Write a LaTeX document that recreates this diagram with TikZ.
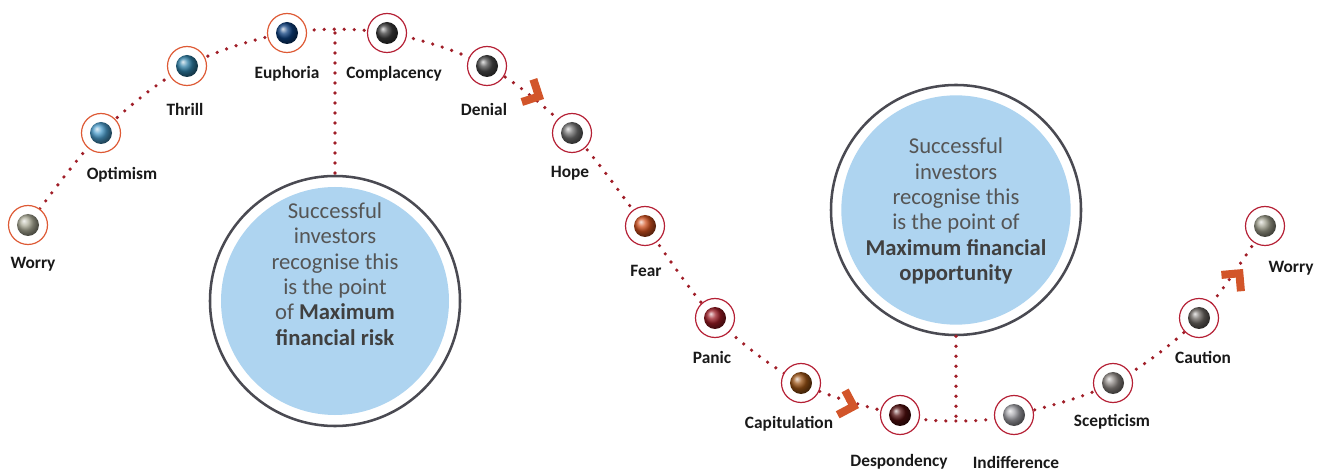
\documentclass[tikz,border=0pt]{standalone}
\usepackage{fontspec}
\usetikzlibrary{calc}
\setmainfont{Carlito}
\definecolor{ringO}{HTML}{DE5A35}
\definecolor{ringR}{HTML}{B52035}
\definecolor{dotred}{HTML}{A01E28}
\definecolor{chev}{HTML}{D2552A}
\definecolor{bigring}{HTML}{4A4A52}
\definecolor{bluefill}{HTML}{AED4F0}
\definecolor{ctext}{HTML}{555555}
\definecolor{cbold}{HTML}{404040}
% chevron: #1 name of tip coordinate, #2 backward angle (pixel frame)
\newcommand\chevronmark[2]{%
  \fill[chevshape] (#1) -- ($(#1)+({#2-45}:22)$) -- ($(#1)+({#2-45}:22)+({#2+45}:8)$)
    -- ($(#1)+(#2:11.3)$) -- ($(#1)+({#2+45}:22)+({#2-45}:8)$) -- ($(#1)+({#2+45}:22)$) -- cycle;
}
\begin{document}
\begin{tikzpicture}[x=0.75pt,y=-0.75pt,
  ringnode/.style={circle, line width=0.9pt, fill=white, minimum size=29.25pt, inner sep=0pt},
  ballnode/.style={circle, shading=ball, minimum size=16.5pt, inner sep=0pt},
  lbl/.style={font=\bfseries\fontsize{13}{15}\selectfont, text=black!90, inner sep=0pt},
  dots/.style={draw=dotred, line width=2.7pt, line cap=round, dash pattern=on 0pt off 7.5pt},
  bigcircle/.style={circle, draw=bigring, line width=1.9pt, fill=white, minimum size=187.5pt, inner sep=0pt},
  bigtext/.style={align=center, text=ctext, font=\fontsize{17}{19}\selectfont, inner sep=0pt},
  chevshape/.style={fill=chev}
]
\useasboundingbox (0,0) rectangle (1325,470);

% centres
\coordinate (c-w1) at (28,225);
\coordinate (c-opt) at (101,133);
\coordinate (c-thr) at (187,66);
\coordinate (c-eup) at (287,33);
\coordinate (c-com) at (387,33);
\coordinate (c-den) at (487,66);
\coordinate (c-hop) at (572,133);
\coordinate (c-fea) at (645,226);
\coordinate (c-pan) at (715,318);
\coordinate (c-cap) at (801,383);
\coordinate (c-des) at (900,415);
\coordinate (c-bot) at (956,421);
\coordinate (c-ind) at (1014,415);
\coordinate (c-sce) at (1113,383);
\coordinate (c-cau) at (1199,318);
\coordinate (c-w2) at (1265,226);
\coordinate (c-top) at (335,33);
\coordinate (k1) at (544,99);
\coordinate (k2) at (859,408);
\coordinate (k3) at (1243,269);

% big circles
\node[bigcircle] (bigL) at (335,301) {};
\fill[bluefill] (bigL.center) circle (85.5pt);
\node[bigtext] (tL) at (335,274) {Successful\\investors\\recognise this\\is the point\\of \textcolor{cbold}{\bfseries Maximum}\\\textcolor{cbold}{\bfseries financial risk}};

\node[bigcircle] (bigR) at (956,210) {};
\fill[bluefill] (bigR.center) circle (86pt);
\node[bigtext] (tR) at (956,211) {Successful\\investors\\recognise this\\is the point of\\\textcolor{cbold}{\bfseries Maximum financial}\\\textcolor{cbold}{\bfseries opportunity}};

% dotted path
\draw[dots] plot[smooth, tension=0.55] coordinates {(c-w1) (c-opt) (c-thr) (c-eup) (c-com) (c-den) (c-hop) (c-fea) (c-pan) (c-cap) (c-des) (c-bot) (c-ind) (c-sce) (c-cau) (c-w2)};
\draw[dots] (c-top) -- (bigL);
\draw[dots] (bigR) -- (c-bot);

% chevrons
\chevronmark{k1}{207}
\chevronmark{k2}{197}
\chevronmark{k3}{130}

% stages
\node[ringnode, draw=ringO] (w1) at (c-w1) {};
\node[ballnode, ball color={rgb,255:red,170;green,170;blue,150}] (w1-b) at (c-w1) {};
\node[lbl] (w1-l) at (33,264) {Worry};

\node[ringnode, draw=ringO] (opt) at (c-opt) {};
\node[ballnode, ball color={rgb,255:red,74;green,156;blue,203}] (opt-b) at (c-opt) {};
\node[lbl] (opt-l) at (122,175) {Optimism};

\node[ringnode, draw=ringO] (thr) at (c-thr) {};
\node[ballnode, ball color={rgb,255:red,46;green,127;blue,166}] (thr-b) at (c-thr) {};
\node[lbl] (thr-l) at (185,109) {Thrill};

\node[ringnode, draw=ringO] (eup) at (c-eup) {};
\node[ballnode, ball color={rgb,255:red,13;green,63;blue,126}] (eup-b) at (c-eup) {};
\node[lbl] (eup-l) at (287,74) {Euphoria};

\node[ringnode, draw=ringR] (com) at (c-com) {};
\node[ballnode, ball color={rgb,255:red,58;green,58;blue,58}] (com-b) at (c-com) {};
\node[lbl] (com-l) at (394,74) {Complacency};

\node[ringnode, draw=ringR] (den) at (c-den) {};
\node[ballnode, ball color={rgb,255:red,74;green,74;blue,74}] (den-b) at (c-den) {};
\node[lbl] (den-l) at (484,109) {Denial};

\node[ringnode, draw=ringR] (hop) at (c-hop) {};
\node[ballnode, ball color={rgb,255:red,112;green,112;blue,112}] (hop-b) at (c-hop) {};
\node[lbl] (hop-l) at (570,173) {Hope};

\node[ringnode, draw=ringR] (fea) at (c-fea) {};
\node[ballnode, ball color={rgb,255:red,208;green,80;blue,30}] (fea-b) at (c-fea) {};
\node[lbl] (fea-l) at (646,271) {Fear};

\node[ringnode, draw=ringR] (pan) at (c-pan) {};
\node[ballnode, ball color={rgb,255:red,155;green,27;blue,36}] (pan-b) at (c-pan) {};
\node[lbl] (pan-l) at (712,357) {Panic};

\node[ringnode, draw=ringR] (cap) at (c-cap) {};
\node[ballnode, ball color={rgb,255:red,154;green,82;blue,20}] (cap-b) at (c-cap) {};
\node[lbl] (cap-l) at (789,424) {Capitulation};

\node[ringnode, draw=ringR] (des) at (c-des) {};
\node[ballnode, ball color={rgb,255:red,80;green,14;blue,14}] (des-b) at (c-des) {};
\node[lbl] (des-l) at (899,462) {Despondency};

\node[ringnode, draw=ringR] (ind) at (c-ind) {};
\node[ballnode, ball color={rgb,255:red,160;green,160;blue,166}] (ind-b) at (c-ind) {};
\node[lbl] (ind-l) at (1016,462) {Indifference};

\node[ringnode, draw=ringR] (sce) at (c-sce) {};
\node[ballnode, ball color={rgb,255:red,140;green,134;blue,130}] (sce-b) at (c-sce) {};
\node[lbl] (sce-l) at (1112,422) {Scepticism};

\node[ringnode, draw=ringR] (cau) at (c-cau) {};
\node[ballnode, ball color={rgb,255:red,106;green,101;blue,96}] (cau-b) at (c-cau) {};
\node[lbl] (cau-l) at (1203,357) {Caution};

\node[ringnode, draw=ringR] (w2) at (c-w2) {};
\node[ballnode, ball color={rgb,255:red,154;green,154;blue,136}] (w2-b) at (c-w2) {};
\node[lbl] (w2-l) at (1291,268) {Worry};
\end{tikzpicture}
\end{document}
